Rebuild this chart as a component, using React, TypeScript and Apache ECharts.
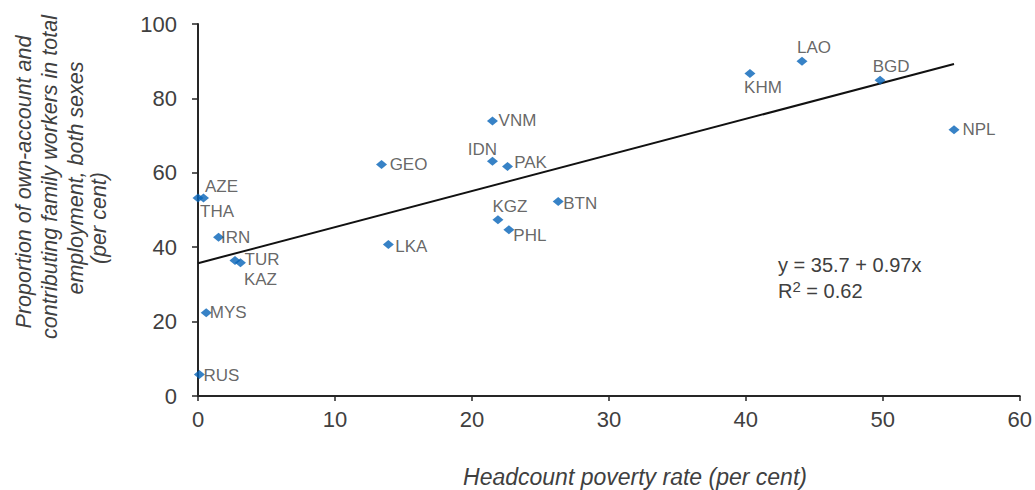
import React, { useEffect, useRef } from "react";
import * as echarts from "echarts";

const countries = ["RUS", "MYS", "THA", "AZE", "IRN", "TUR", "KAZ", "GEO", "LKA", "VNM", "IDN", "PAK", "KGZ", "PHL", "BTN", "KHM", "LAO", "BGD", "NPL"];
const povertyRate = [0.1, 0.6, 0.0, 0.4, 1.5, 2.7, 3.1, 13.4, 13.9, 21.5, 21.5, 22.6, 21.9, 22.7, 26.3, 40.3, 44.1, 49.8, 55.2];
const ownAccountShare = [5.8, 22.4, 53.2, 53.2, 42.7, 36.4, 35.8, 62.2, 40.7, 73.9, 63.1, 61.7, 47.4, 44.7, 52.3, 86.7, 90.0, 84.9, 71.6];
const xTicks = { min: 0, max: 60, interval: 10 };
const yTicks = { min: 0, max: 100, interval: 20 };
const intercept = 35.7;
const slope = 0.97;
const rSquared = 0.62;

// label offsets (style only), text centre relative to marker centre
const labelOffsets: Record<string, [number, number]> = {
  RUS: [22, 1], MYS: [22, 0], THA: [19, 13], AZE: [18, -12], IRN: [17, 0],
  TUR: [27, -1], KAZ: [20, 17], GEO: [27, 0], LKA: [23, 2], VNM: [25, -1],
  IDN: [-10, -12], PAK: [23, -4], KGZ: [12, -13], PHL: [21, 6], BTN: [22, 2],
  KHM: [13, 14], LAO: [12, -14], BGD: [11, -14], NPL: [25, 0],
};

const FONT = "'Liberation Sans', Arial, sans-serif";
const GREY = "#404040";

export default function App() {
  const ref = useRef<HTMLDivElement>(null);
  useEffect(() => {
    if (!ref.current) return;
    const chart = echarts.init(ref.current, null, { renderer: "svg" });
    const xMax = Math.max(...povertyRate);
    const points = countries.map((c, i) => ({
      name: c,
      value: [povertyRate[i], ownAccountShare[i]],
      label: {
        show: true,
        position: "inside",
        offset: labelOffsets[c],
        formatter: c,
        fontSize: 17,
        color: GREY,
        fontFamily: FONT,
      },
    }));
    const yTitle = [
      { t: "Proportion of own-account and", x: 24, y: 182 },
      { t: "contributing family workers in total", x: 50, y: 177 },
      { t: "employment, both sexes", x: 76, y: 178 },
      { t: "(per cent)", x: 99, y: 218 },
    ];
    chart.setOption({
      animation: false,
      grid: { left: 198, right: 15, top: 24, bottom: 94 },
      xAxis: {
        type: "value",
        min: xTicks.min,
        max: xTicks.max,
        interval: xTicks.interval,
        splitLine: { show: false },
        axisLine: { lineStyle: { color: "#262626", width: 2 } },
        axisTick: { show: true, length: 5, lineStyle: { color: "#262626", width: 1.5 } },
        axisLabel: { fontSize: 22, color: GREY, fontFamily: FONT, margin: 12 },
      },
      yAxis: {
        type: "value",
        min: yTicks.min,
        max: yTicks.max,
        interval: yTicks.interval,
        splitLine: { show: false },
        axisLine: { show: true, lineStyle: { color: "#262626", width: 2 } },
        axisTick: { show: true, length: 6, lineStyle: { color: "#262626", width: 1.5 } },
        axisLabel: { fontSize: 22, color: GREY, fontFamily: FONT, margin: 21 },
      },
      series: [
        {
          type: "line",
          data: [[0, intercept], [xMax, intercept + slope * xMax]],
          symbol: "none",
          lineStyle: { color: "#111111", width: 2 },
          z: 1,
        },
        {
          type: "scatter",
          symbol: "diamond",
          symbolSize: [11, 9],
          itemStyle: { color: "#0563b8" },
          data: points,
          z: 3,
        },
      ],
      graphic: [
        ...yTitle.map((l) => ({
          type: "text",
          x: l.x,
          y: l.y,
          rotation: Math.PI / 2,
          style: {
            text: l.t,
            fontSize: 21.5,
            fontStyle: "italic",
            fontFamily: FONT,
            fill: GREY,
            align: "center",
            verticalAlign: "middle",
          },
        })),
        {
          type: "text",
          x: 635,
          y: 477,
          style: {
            text: "Headcount poverty rate (per cent)",
            fontSize: 23,
            fontStyle: "italic",
            fontFamily: FONT,
            fill: GREY,
            align: "center",
            verticalAlign: "middle",
          },
        },
        {
          type: "text",
          x: 778,
          y: 265,
          style: {
            text: `y = ${intercept} + ${slope}x`,
            fontSize: 20,
            fontFamily: FONT,
            fill: GREY,
            align: "left",
            verticalAlign: "middle",
          },
        },
        {
          type: "text",
          x: 778,
          y: 290,
          style: {
            text: `{a|R}{s|2}{a| = ${rSquared}}`,
            fontFamily: FONT,
            fill: GREY,
            align: "left",
            verticalAlign: "middle",
            rich: {
              a: { fontSize: 20, fontFamily: FONT, fill: GREY, lineHeight: 22, verticalAlign: "bottom" },
              s: { fontSize: 15, fontFamily: FONT, fill: GREY, lineHeight: 22, verticalAlign: "top" },
            },
          },
        },
      ],
    });
    return () => chart.dispose();
  }, []);
  return <div ref={ref} style={{ position: "fixed", left: 0, top: 0, width: 1035, height: 490, background: "#fff" }} />;
}
